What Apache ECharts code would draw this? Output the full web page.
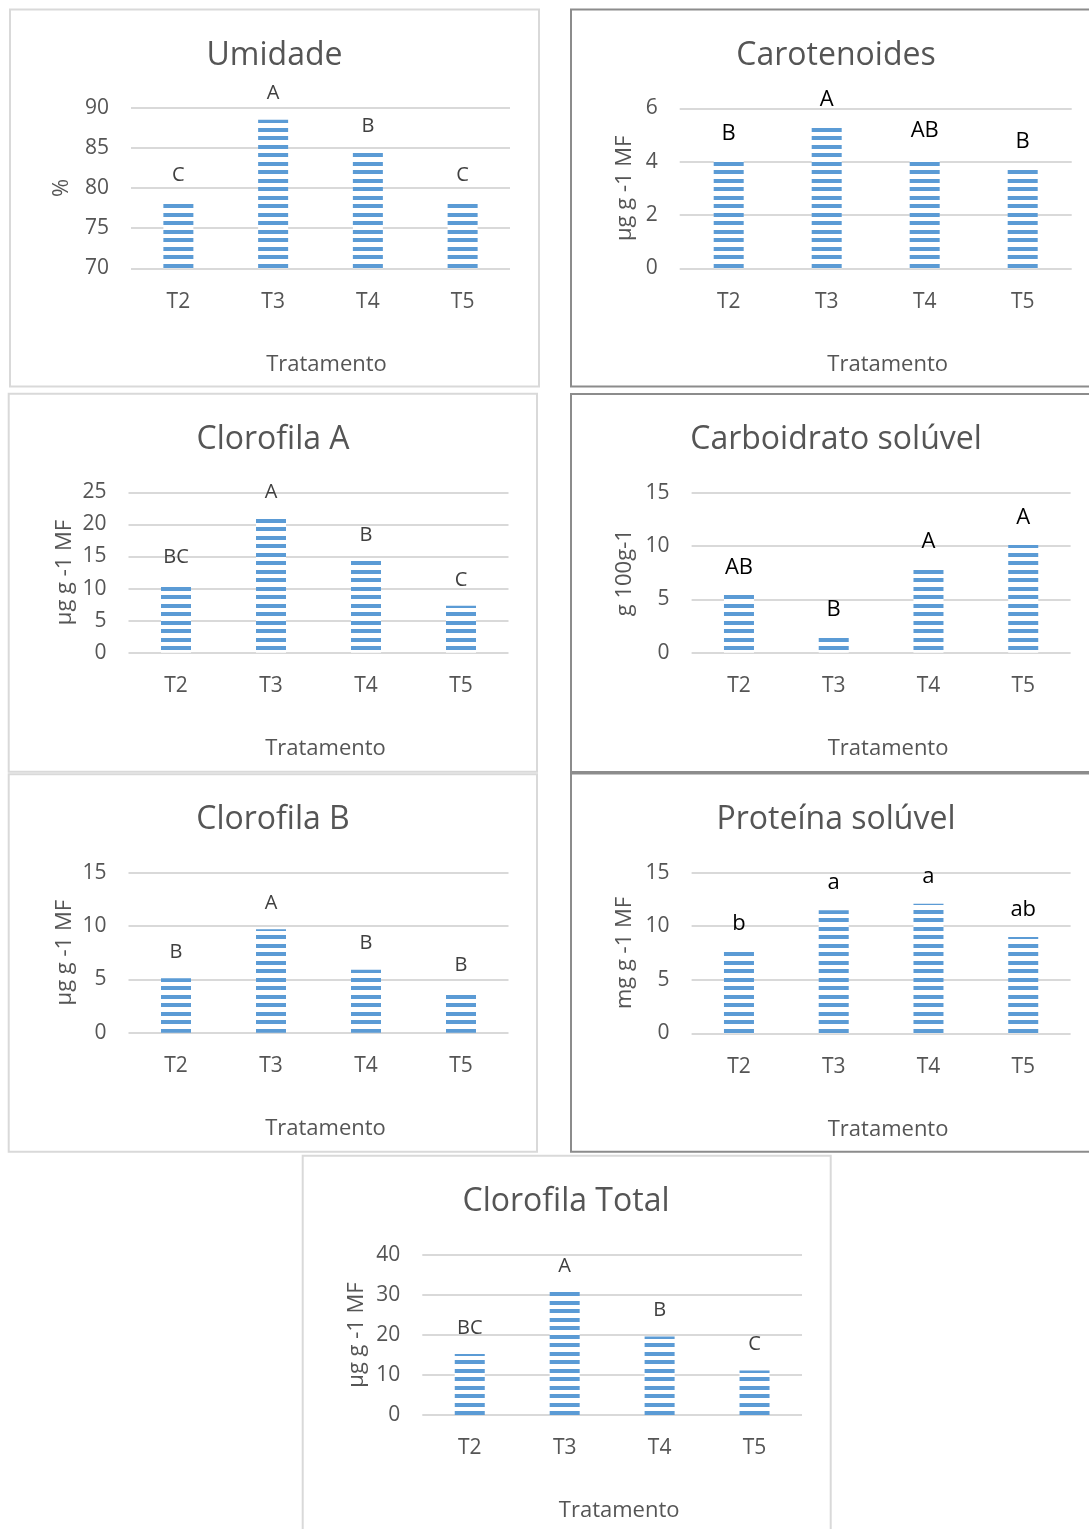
<!DOCTYPE html>
<html>
<head>
<meta charset="utf-8">
<script src="https://cdn.jsdelivr.net/npm/echarts@6/dist/echarts.min.js"></script>
<style>
  html, body { margin: 0; padding: 0; background: #ffffff; }
  #chart { width: 1089px; height: 1529px; }
</style>
</head>
<body>
<div id="chart"></div>
<script>
// Treatments shown on every x axis
const categories = ['T2', 'T3', 'T4', 'T5'];

// Moisture (%)
const umidade = [78.3, 88.5, 84.4, 78.3];
const umidadeLetters = ['C', 'A', 'B', 'C'];
const umidadeTicks = [70, 90, 5];

// Carotenoids (µg g-1 MF)
const carotenoides = [4.05, 5.32, 4.15, 3.75];
const carotenoidesLetters = ['B', 'A', 'AB', 'B'];
const carotenoidesTicks = [0, 6, 2];

// Chlorophyll a
const clorofilaA = [10.8, 20.9, 14.3, 7.3];
const clorofilaALetters = ['BC', 'A', 'B', 'C'];
const clorofilaATicks = [0, 25, 5];

// Soluble carbohydrate (g 100g-1)
const carboidrato = [5.47, 1.5, 7.9, 10.1];
const carboidratoLetters = ['AB', 'B', 'A', 'A'];
const carboidratoTicks = [0, 15, 5];

// Chlorophyll b
const clorofilaB = [5.1, 9.7, 5.9, 3.85];
const clorofilaBLetters = ['B', 'A', 'B', 'B'];
const clorofilaBTicks = [0, 15, 5];

// Soluble protein (mg g-1 MF)
const proteina = [7.7, 11.5, 12.1, 9.0];
const proteinaLetters = ['b', 'a', 'a', 'ab'];
const proteinaTicks = [0, 15, 5];

// Total chlorophyll
const clorofilaTotal = [15.25, 30.8, 19.6, 11.1];
const clorofilaTotalLetters = ['BC', 'A', 'B', 'C'];
const clorofilaTotalTicks = [0, 40, 10];

const FONT = '"Open Sans", "Noto Sans", sans-serif';
const GREY = '#555555';
const LIGHT_FRAME = '#d9d9d9';
const DARK_FRAME = '#8c8c8c';

// Horizontal-stripe fill used for the bars
const stripe = document.createElement('canvas');
stripe.width = 8;
stripe.height = 17;
(function () {
  const g = stripe.getContext('2d');
  g.fillStyle = '#ffffff';
  g.fillRect(0, 0, 8, 17);
  g.fillStyle = '#5b9bd5';
  g.fillRect(0, 0, 8, 4);
  g.fillRect(0, 9, 8, 4);
})();

// One panel per variable: frame, plot area and text placement
const panels = [
  { title: 'Umidade', values: umidade, letters: umidadeLetters, ticks: umidadeTicks, yName: '%',
    frame: [10, 9.5, 529, 377], frameColor: LIGHT_FRAME,
    grid: [131, 107.7, 379, 160.6], titleX: 274.5, yNameGap: 58, xNameShift: 6,
    letterColor: '#404040', letterSize: 20 },
  { title: 'Carotenoides', values: carotenoides, letters: carotenoidesLetters, ticks: carotenoidesTicks, yName: 'µg g -1 MF',
    frame: [571, 9.5, 540, 377], frameColor: DARK_FRAME,
    grid: [679.7, 108.3, 392, 160], titleX: 836, yNameGap: 44, xNameShift: 12,
    letterColor: '#000000', letterSize: 22 },
  { title: 'Clorofila A', values: clorofilaA, letters: clorofilaALetters, ticks: clorofilaATicks, yName: 'µg g -1 MF',
    frame: [8.7, 393.8, 528.3, 378], frameColor: LIGHT_FRAME,
    grid: [128.5, 492.3, 380, 160.4], titleX: 273, yNameGap: 53, xNameShift: 7,
    letterColor: '#404040', letterSize: 20 },
  { title: 'Carboidrato solúvel', values: carboidrato, letters: carboidratoLetters, ticks: carboidratoTicks, yName: 'g 100g-1',
    frame: [571, 394, 540, 378], frameColor: DARK_FRAME,
    grid: [691.6, 492.7, 379, 160], titleX: 836, yNameGap: 56, xNameShift: 7,
    letterColor: '#000000', letterSize: 22 },
  { title: 'Clorofila B', values: clorofilaB, letters: clorofilaBLetters, ticks: clorofilaBTicks, yName: 'µg g -1 MF',
    frame: [8.7, 774.3, 528.3, 377.4], frameColor: LIGHT_FRAME,
    grid: [128.5, 872.7, 380, 160], titleX: 273, yNameGap: 53, xNameShift: 7,
    letterColor: '#404040', letterSize: 20 },
  { title: 'Proteína solúvel', values: proteina, letters: proteinaLetters, ticks: proteinaTicks, yName: 'mg g -1 MF',
    frame: [571, 773.5, 540, 378.2], frameColor: DARK_FRAME,
    grid: [691.6, 872.7, 379, 160.6], titleX: 836, yNameGap: 56, xNameShift: 7,
    letterColor: '#000000', letterSize: 22 },
  { title: 'Clorofila Total', values: clorofilaTotal, letters: clorofilaTotalLetters, ticks: clorofilaTotalTicks, yName: 'µg g -1 MF',
    frame: [302.7, 1155.7, 528, 390], frameColor: LIGHT_FRAME,
    grid: [422.3, 1255, 379.7, 160], titleX: 566, yNameGap: 55, xNameShift: 7,
    letterColor: '#404040', letterSize: 20 }
];

const option = {
  animation: false,
  backgroundColor: '#ffffff',
  title: [], grid: [], xAxis: [], yAxis: [], series: [], graphic: []
};

panels.forEach(function (p, i) {
  const [gx, gy, gw, gh] = p.grid;
  option.graphic.push({
    type: 'rect', silent: true, z: 0,
    shape: { x: p.frame[0], y: p.frame[1], width: p.frame[2], height: p.frame[3] },
    style: { fill: 'none', stroke: p.frameColor, lineWidth: 2 }
  });
  option.title.push({
    text: p.title, left: p.titleX, top: p.frame[1] + 46,
    textAlign: 'center', textVerticalAlign: 'middle', padding: 0,
    textStyle: { fontFamily: FONT, fontSize: 32, fontWeight: 'normal', color: GREY }
  });
  option.grid.push({ left: gx, top: gy, width: gw, height: gh, containLabel: false });
  option.xAxis.push({
    type: 'category', gridIndex: i, data: categories,
    axisTick: { show: false },
    axisLine: { show: false },
    axisLabel: { margin: 23, fontFamily: FONT, fontSize: 21, color: GREY },
    name: 'Tratamento', nameLocation: 'middle', nameGap: 85,
    nameTextStyle: { fontFamily: FONT, fontSize: 22, color: GREY, padding: [0, 0, 0, p.xNameShift * 2] }
  });
  option.yAxis.push({
    type: 'value', gridIndex: i,
    min: p.ticks[0], max: p.ticks[1], interval: p.ticks[2],
    axisLine: { show: false },
    axisTick: { show: false },
    splitLine: { lineStyle: { color: '#d9d9d9', width: 2 } },
    axisLabel: { margin: 22, fontFamily: FONT, fontSize: 21, color: GREY, padding: [2, 0, 0, 0] },
    name: p.yName, nameLocation: 'middle', nameRotate: 90, nameGap: p.yNameGap,
    nameTextStyle: { fontFamily: FONT, fontSize: 22, color: GREY }
  });
  option.series.push({
    type: 'bar', xAxisIndex: i, yAxisIndex: i,
    data: p.values, barWidth: 30, silent: true,
    itemStyle: { color: { image: stripe, repeat: 'repeat' } },
    label: {
      show: true, position: 'top', distance: 16,
      fontFamily: FONT, fontSize: p.letterSize, color: p.letterColor,
      formatter: function (params) { return p.letters[params.dataIndex]; }
    }
  });
});

const chart = echarts.init(document.getElementById('chart'), null, { renderer: 'canvas' });
chart.setOption(option);
</script>
</body>
</html>
